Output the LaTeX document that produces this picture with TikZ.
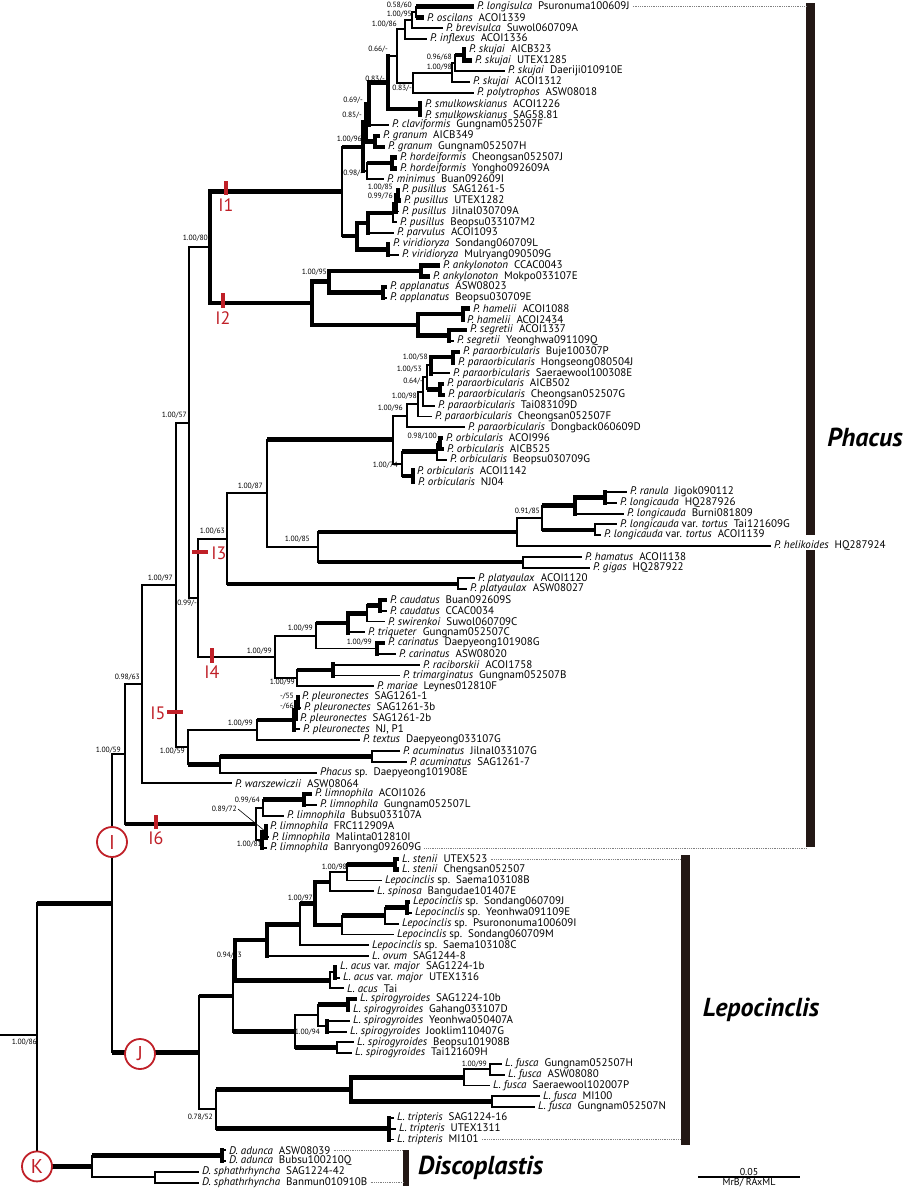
\documentclass[tikz,border=0pt]{standalone}
\usepackage{fontspec}
\setmainfont{PT Sans}
\usetikzlibrary{calc}
\definecolor{dred}{RGB}{192,32,40}
\definecolor{barc}{RGB}{35,24,21}
\newcommand\gp{\hspace{6pt}}
\newcommand\tip[4]{\coordinate (#1) at (#3,{6.5+(#2-1)*10.79});\node[tiplab] (#1l) at (#1) {#4};}
\newcommand\inode[4]{\path let \p1=(#3), \p2=(#4) in coordinate (#1) at (#2pt,{0.5*(\y1+\y2)});}
\newcommand\cl[7]{\inode{#1}{#2}{#3}{#5}\draw[br,#4] (#1 |- #3) -- (#3);\draw[br,#6] (#1 |- #5) -- (#5);\draw[br,line cap=rect,#7] (#1 |- #3) -- (#1 |- #5);}
\newcommand\sv[4]{\node[sup] (#1) at (#2,#3) {#4};}
\begin{document}
\begin{tikzpicture}[x=1pt,y=-1pt,
  br/.style={line width=1.9pt,black},
  k/.style={line width=4.5pt},
  tiplab/.style={anchor=west,inner sep=0pt,xshift=3pt,font=\fontsize{11}{11}\selectfont},
  sup/.style={anchor=east,inner sep=0pt,font=\fontsize{7.6}{7.6}\selectfont},
  tick/.style={dred,line width=3.5pt},
  tlab/.style={text=dred,inner sep=0pt,font=\fontsize{18}{18}\selectfont},
  circ/.style={circle,draw=dred,line width=1.8pt,fill=white,text=dred,minimum size=30pt,inner sep=0pt,font=\fontsize{20}{20}\selectfont},
  clab/.style={inner sep=0pt,font=\fontsize{26}{26}\selectfont\bfseries\itshape},
  dotl/.style={gray,line width=0.8pt,densely dotted},
  scl/.style={inner sep=1pt,font=\fontsize{10}{10}\selectfont}]
\fill[white] (0,0) rectangle (903,1191);
\useasboundingbox (0,0) rectangle (903,1191);
% tips
\tip{t1}{1}{474}{\textit{P. longisulca}\gp Psuronuma100609J}
\tip{t2}{2}{424}{\textit{P. oscilans}\gp ACOI1339}
\tip{t3}{3}{443}{\textit{P. brevisulca}\gp Suwol060709A}
\tip{t4}{4}{427}{\textit{P. inflexus}\gp ACOI1336}
\tip{t5}{5}{466}{\textit{P. skujai}\gp AICB323}
\tip{t6}{6}{472}{\textit{P. skujai}\gp UTEX1285}
\tip{t7}{7}{505}{\textit{P. skujai}\gp Daeriji010910E}
\tip{t8}{8}{470}{\textit{P. skujai}\gp ACOI1312}
\tip{t9}{9}{474}{\textit{P. polytrophos}\gp ASW08018}
\tip{t10}{10}{422}{\textit{P. smulkowskianus}\gp ACOI1226}
\tip{t11}{11}{422}{\textit{P. smulkowskianus}\gp SAG58.81}
\tip{t12}{12}{389}{\textit{P. claviformis}\gp Gungnam052507F}
\tip{t13}{13}{380}{\textit{P. granum}\gp AICB349}
\tip{t14}{14}{385}{\textit{P. granum}\gp Gungnam052507H}
\tip{t15}{15}{397}{\textit{P. hordeiformis}\gp Cheongsan052507J}
\tip{t16}{16}{397}{\textit{P. hordeiformis}\gp Yongho092609A}
\tip{t17}{17}{384}{\textit{P. minimus}\gp Buan092609I}
\tip{t18}{18}{399}{\textit{P. pusillus}\gp SAG1261-5}
\tip{t19}{19}{401}{\textit{P. pusillus}\gp UTEX1282}
\tip{t20}{20}{399}{\textit{P. pusillus}\gp Jilnal030709A}
\tip{t21}{21}{397}{\textit{P. pusillus}\gp Beopsu033107M2}
\tip{t22}{22}{394}{\textit{P. parvulus}\gp ACOI1093}
\tip{t23}{23}{390}{\textit{P. viridioryza}\gp Sondang060709L}
\tip{t24}{24}{399}{\textit{P. viridioryza}\gp Mulryang090509G}
\tip{t25}{25}{440}{\textit{P. ankylonoton}\gp CCAC0043}
\tip{t26}{26}{430}{\textit{P. ankylonoton}\gp Mokpo033107E}
\tip{t27}{27}{387}{\textit{P. applanatus}\gp ASW08023}
\tip{t28}{28}{387}{\textit{P. applanatus}\gp Beopsu030709E}
\tip{t29}{29}{470}{\textit{P. hamelii}\gp ACOI1088}
\tip{t30}{30}{464}{\textit{P. hamelii}\gp ACOI2434}
\tip{t31}{31}{467}{\textit{P. segretii}\gp ACOI1337}
\tip{t32}{32}{454}{\textit{P. segretii}\gp Yeonghwa091109Q}
\tip{t33}{33}{460}{\textit{P. paraorbicularis}\gp Buje100307P}
\tip{t34}{34}{455}{\textit{P. paraorbicularis}\gp Hongseong080504J}
\tip{t35}{35}{450}{\textit{P. paraorbicularis}\gp Saeraewool100308E}
\tip{t36}{36}{444}{\textit{P. paraorbicularis}\gp AICB502}
\tip{t37}{37}{445}{\textit{P. paraorbicularis}\gp Cheongsan052507G}
\tip{t38}{38}{435}{\textit{P. paraorbicularis}\gp Tai083109D}
\tip{t39}{39}{432}{\textit{P. paraorbicularis}\gp Cheongsan052507F}
\tip{t40}{40}{465}{\textit{P. paraorbicularis}\gp Dongback060609D}
\tip{t41}{41}{443}{\textit{P. orbicularis}\gp ACOI996}
\tip{t42}{42}{444}{\textit{P. orbicularis}\gp AICB525}
\tip{t43}{43}{447}{\textit{P. orbicularis}\gp Beopsu030709G}
\tip{t44}{44}{414}{\textit{P. orbicularis}\gp ACOI1142}
\tip{t45}{45}{415}{\textit{P. orbicularis}\gp NJ04}
\tip{t46}{46}{627}{\textit{P. ranula}\gp Jigok090112}
\tip{t47}{47}{617}{\textit{P. longicauda}\gp HQ287926}
\tip{t48}{48}{624}{\textit{P. longicauda}\gp Burni081809}
\tip{t49}{49}{617}{\textit{P. longicauda} var. \textit{tortus}\gp Tai121609G}
\tip{t50}{50}{601}{\textit{P. longicauda} var. \textit{tortus}\gp ACOI1139}
\tip{t51}{51}{771}{\textit{P. helikoides}\gp HQ287924}
\tip{t52}{52}{582}{\textit{P. hamatus}\gp ACOI1138}
\tip{t53}{53}{590}{\textit{P. gigas}\gp HQ287922}
\tip{t54}{54}{475}{\textit{P. platyaulax}\gp ACOI1120}
\tip{t55}{55}{467}{\textit{P. platyaulax}\gp ASW08027}
\tip{t56}{56}{387}{\textit{P. caudatus}\gp Buan092609S}
\tip{t57}{57}{387}{\textit{P. caudatus}\gp CCAC0034}
\tip{t58}{58}{385}{\textit{P. swirenkoi}\gp Suwol060709C}
\tip{t59}{59}{365}{\textit{P. triqueter}\gp Gungnam052507C}
\tip{t60}{60}{385}{\textit{P. carinatus}\gp Daepyeong101908G}
\tip{t61}{61}{396}{\textit{P. carinatus}\gp ASW08020}
\tip{t62}{62}{420}{\textit{P. raciborskii}\gp ACOI1758}
\tip{t63}{63}{400}{\textit{P. trimarginatus}\gp Gungnam052507B}
\tip{t64}{64}{374}{\textit{P. mariae}\gp Leynes012810F}
\tip{t65}{65}{299}{\textit{P. pleuronectes}\gp SAG1261-1}
\tip{t66}{66}{301}{\textit{P. pleuronectes}\gp SAG1261-3b}
\tip{t67}{67}{297}{\textit{P. pleuronectes}\gp SAG1261-2b}
\tip{t68}{68}{300}{\textit{P. pleuronectes}\gp NJ, P1}
\tip{t69}{69}{360}{\textit{P. textus}\gp Daepyeong033107G}
\tip{t70}{70}{400}{\textit{P. acuminatus}\gp Jilnal033107G}
\tip{t71}{71}{407}{\textit{P. acuminatus}\gp SAG1261-7}
\tip{t72}{72}{317}{\textit{Phacus} sp.\gp Daepyeong101908E}
\tip{t73}{73}{232}{\textit{P. warszewiczii}\gp ASW08064}
\tip{t74}{74}{312}{\textit{P. limnophila}\gp ACOI1026}
\tip{t75}{75}{317}{\textit{P. limnophila}\gp Gungnam052507L}
\tip{t76}{76}{284}{\textit{P. limnophila}\gp Bubsu033107A}
\tip{t77}{77}{267}{\textit{P. limnophila}\gp FRC112909A}
\tip{t78}{78}{269}{\textit{P. limnophila}\gp Malinta012810I}
\tip{t79}{79}{267}{\textit{P. limnophila}\gp Banryong092609G}
\tip{t80}{80}{399}{\textit{L. stenii}\gp UTEX523}
\tip{t81}{81}{399}{\textit{L. stenii}\gp Chengsan052507}
\tip{t82}{82}{382}{\textit{Lepocinclis} sp.\gp Saema103108B}
\tip{t83}{83}{374}{\textit{L. spinosa}\gp Bangudae101407E}
\tip{t84}{84}{410}{\textit{Lepocinclis} sp.\gp Sondang060709J}
\tip{t85}{85}{412}{\textit{Lepocinclis} sp.\gp Yeonhwa091109E}
\tip{t86}{86}{399}{\textit{Lepocinclis} sp.\gp Psurononuma100609I}
\tip{t87}{87}{394}{\textit{Lepocinclis} sp.\gp Sondang060709M}
\tip{t88}{88}{369}{\textit{Lepocinclis} sp.\gp Saema103108C}
\tip{t89}{89}{369}{\textit{L. ovum}\gp SAG1244-8}
\tip{t90}{90}{337}{\textit{L. acus} var. \textit{major}\gp SAG1224-1b}
\tip{t91}{91}{340}{\textit{L. acus} var. \textit{major}\gp UTEX1316}
\tip{t92}{92}{344}{\textit{L. acus}\gp Tai}
\tip{t93}{93}{357}{\textit{L. spirogyroides}\gp SAG1224-10b}
\tip{t94}{94}{350}{\textit{L. spirogyroides}\gp Gahang033107D}
\tip{t95}{95}{350}{\textit{L. spirogyroides}\gp Yeonhwa050407A}
\tip{t96}{96}{347}{\textit{L. spirogyroides}\gp Jooklim110407G}
\tip{t97}{97}{354}{\textit{L. spirogyroides}\gp Beopsu101908B}
\tip{t98}{98}{352}{\textit{L. spirogyroides}\gp Tai121609H}
\tip{t99}{99}{502}{\textit{L. fusca}\gp Gungnam052507H}
\tip{t100}{100}{505}{\textit{L. fusca}\gp ASW08080}
\tip{t101}{101}{490}{\textit{L. fusca}\gp Saeraewool102007P}
\tip{t102}{102}{540}{\textit{L. fusca}\gp MI100}
\tip{t103}{103}{535}{\textit{L. fusca}\gp Gungnam052507N}
\tip{t104}{104}{394}{\textit{L. tripteris}\gp SAG1224-16}
\tip{t105}{105}{396}{\textit{L. tripteris}\gp UTEX1311}
\tip{t106}{106}{394}{\textit{L. tripteris}\gp MI101}
\tip{t107}{107}{226}{\textit{D. adunca}\gp ASW08039}
\tip{t108}{108}{226}{\textit{D. adunca}\gp Bubsu100210Q}
\tip{t109}{109}{199}{\textit{D. sphathrhyncha}\gp SAG1224-42}
\tip{t110}{110}{199}{\textit{D. sphathrhyncha}\gp Banmun010910B}
% Phacus upper clades
\cl{N60}{416}{t1}{k}{t2}{k}{}
\cl{N95}{412}{N60}{}{t3}{}{}
\cl{N86}{405}{N95}{}{t4}{}{}
\cl{SK}{464}{t5}{k}{t6}{k}{k}
\cl{S2}{455}{SK}{k}{t7}{}{}
\cl{S3}{452}{S2}{}{t8}{}{}
\cl{SP}{413}{S3}{}{t9}{}{}
\cl{N66}{397}{N86}{}{SP}{}{}
\cl{SM}{420}{t10}{}{t11}{}{k}
\cl{N83}{388}{N66}{}{SM}{k}{k}
\cl{N69}{369}{N83}{k}{t12}{}{k}
\cl{GR}{375}{t13}{k}{t14}{k}{k}
\cl{N85p}{366}{N69}{k}{GR}{k}{k}
\cl{HO}{392}{t15}{k}{t16}{k}{k}
\cl{N98}{367}{HO}{k}{t17}{}{}
\cl{N96}{363}{N85p}{k}{N98}{}{k}
\cl{PU3}{398}{t18}{k}{t19}{k}{k}
\cl{PU2}{396}{PU3}{k}{t20}{}{k}
\cl{PU}{393}{PU2}{}{t21}{}{}
\cl{PP}{368}{PU}{k}{t22}{}{k}
\cl{VI}{388}{t23}{}{t24}{}{k}
\cl{PG}{357}{PP}{k}{VI}{k}{k}
\cl{I1n}{342}{N96}{k}{PG}{k}{}
\cl{AN}{421}{t25}{k}{t26}{k}{k}
\cl{AP}{383}{t27}{k}{t28}{}{k}
\cl{AA}{329}{AN}{k}{AP}{k}{k}
\cl{HA}{463}{t29}{k}{t30}{}{k}
\cl{SE}{449}{t31}{k}{t32}{}{k}
\cl{HS}{418}{HA}{k}{SE}{k}{k}
\cl{I2n}{312}{AA}{k}{HS}{k}{k}
\cl{N80}{210}{I1n}{k}{I2n}{k}{k}
% paraorbicularis / orbicularis / longicauda
\cl{BH}{453}{t33}{k}{t34}{k}{k}
\cl{PB1}{431}{BH}{k}{t35}{}{k}
\cl{AC5}{440}{t36}{k}{t37}{k}{k}
\cl{PB2}{427}{PB1}{}{AC5}{k}{}
\cl{PB3}{423}{PB2}{}{t38}{}{}
\cl{PB4}{418}{PB3}{}{t39}{}{}
\cl{PA}{407}{PB4}{}{t40}{}{}
\cl{OB1}{440}{t41}{k}{t42}{k}{k}
\cl{OB2}{437}{OB1}{k}{t43}{}{}
\cl{OB3}{413}{t44}{k}{t45}{k}{k}
\cl{OB}{402}{OB2}{k}{OB3}{k}{}
\cl{PO}{393}{PA}{}{OB}{}{}
\cl{RP}{605}{t46}{}{t47}{}{k}
\cl{RL}{575}{RP}{k}{t48}{}{k}
\cl{TO}{595}{t49}{}{t50}{}{}
\cl{LK}{542}{RL}{k}{TO}{k}{}
\cl{LH}{517}{LK}{}{t51}{}{}
\cl{HG}{523}{t52}{}{t53}{}{}
\cl{N85}{318}{LH}{k}{HG}{k}{}
\cl{N87}{267}{PO}{k}{N85}{}{}
\cl{PY}{458}{t54}{}{t55}{}{}
\cl{N63}{227}{N87}{}{PY}{k}{}
\cl{CP}{380}{t56}{k}{t57}{}{k}
\cl{CG2}{367}{CP}{k}{t58}{}{}
\cl{CG}{348}{CG2}{k}{t59}{}{k}
\cl{CA}{377}{t60}{k}{t61}{}{k}
\cl{CC}{316}{CG}{k}{CA}{}{}
\cl{RTa}{333}{t62}{}{t63}{}{k}
\cl{RT}{297}{RTa}{k}{t64}{}{}
\cl{I4n}{275}{CC}{}{RT}{}{}
\cl{N99}{198}{N63}{}{I4n}{}{}
\cl{N57}{189}{N80}{}{N99}{}{}
\cl{PL3}{298}{t65}{}{t66}{}{k}
\cl{PL2}{296}{PL3}{}{t67}{}{k}
\cl{PL}{294}{PL2}{}{t68}{}{k}
\cl{PT}{257}{PL}{k}{t69}{}{}
\cl{AU}{372}{t70}{}{t71}{}{}
\cl{AC}{220}{AU}{k}{t72}{}{}
\cl{N59b}{188}{PT}{}{AC}{k}{}
\cl{N97}{176}{N57}{}{N59b}{}{}
\cl{N9863}{142}{N97}{}{t73}{}{}
\cl{LP}{304}{t74}{k}{t75}{}{k}
\cl{LM1}{263}{LP}{k}{t76}{}{}
\cl{LM3}{266}{t77}{}{t78}{}{k}
\cl{LM2}{262}{LM3}{}{t79}{}{k}
\cl{LM}{256}{LM1}{}{LM2}{}{}
\cl{N59}{125}{N9863}{}{LM}{k}{}
% Lepocinclis
\cl{ST}{395}{t80}{k}{t81}{k}{k}
\cl{SG1}{347}{ST}{k}{t82}{}{}
\cl{SG}{330}{SG1}{}{t83}{}{}
\cl{SJ}{407}{t84}{k}{t85}{}{k}
\cl{SD1}{385}{SJ}{k}{t86}{}{}
\cl{SD}{342}{SD1}{k}{t87}{}{}
\cl{BC1}{315}{SG}{k}{SD}{k}{k}
\cl{BC}{300}{BC1}{k}{t88}{}{}
\cl{OV}{267}{BC}{k}{t89}{}{k}
\cl{AS}{335}{t90}{}{t91}{}{k}
\cl{ACU}{330}{AS}{}{t92}{}{}
\cl{N94}{235}{OV}{k}{ACU}{k}{k}
\cl{SGa}{348}{t93}{k}{t94}{}{k}
\cl{SYJ}{327}{t95}{}{t96}{}{k}
\cl{SP1}{318}{SGa}{k}{SYJ}{}{}
\cl{SBT}{337}{t97}{}{t98}{}{}
\cl{SPI}{295}{SP1}{}{SBT}{k}{}
\cl{JA}{233}{N94}{}{SPI}{k}{}
\cl{FP}{490}{t99}{}{t100}{}{}
\cl{FC1}{464}{FP}{}{t101}{}{}
\cl{FM}{492}{t102}{}{t103}{}{}
\cl{FC}{351}{FC1}{k}{FM}{k}{k}
\inode{TR}{389}{t104}{t106}
\draw[br] (TR |- t104) -- (t104);
\draw[br] (TR |- t105) -- (t105);
\draw[br] (TR |- t106) -- (t106);
\draw[br,k,line cap=rect] (TR |- t104) -- (TR |- t106);
\cl{JB}{216}{FC}{k}{TR}{k}{}
\cl{Jn}{199}{JA}{k}{JB}{}{}
\cl{IJ}{112}{N59}{}{Jn}{k}{}
% Discoplastis and root
\cl{DA}{222}{t107}{}{t108}{}{k}
\cl{DS}{155}{t109}{}{t110}{}{}
\cl{Kn}{92}{DA}{k}{DS}{}{}
\cl{RT0}{37}{IJ}{k}{Kn}{k}{}
\path let \p1=(RT0) in coordinate (r0) at (0pt,\y1);
\draw[br] (r0) -- (RT0);
% support values
\sv{sA}{412}{5}{0.58/60}
\sv{sB}{412}{14}{1.00/95}
\sv{sC}{397}{24}{1.00/86}
\sv{sD}{388}{49}{0.66/-}
\sv{sE}{452}{57}{0.96/68}
\sv{sF}{452}{67}{1.00/98}
\sv{sG}{385}{79}{0.83/-}
\sv{sH}{412}{88}{0.83/-}
\sv{sI}{363}{100}{0.69/-}
\sv{sJ}{362}{115}{0.85/-}
\sv{sK}{362}{139}{1.00/96}
\sv{sL}{363}{173}{0.98/-}
\sv{sM}{393}{187}{1.00/85}
\sv{sN}{393}{196}{0.99/76}
\sv{sO}{208}{238}{1.00/80}
\sv{sP}{327}{272}{1.00/95}
\sv{sQ}{428}{357}{1.00/58}
\sv{sR}{422}{369}{1.00/53}
\sv{sS}{423}{381}{0.64/-}
\sv{sT}{417}{396}{1.00/98}
\sv{sU}{403}{408}{1.00/96}
\sv{sV}{437}{436}{0.98/100}
\sv{sW}{398}{465}{1.00/74}
\sv{sX}{263}{486}{1.00/87}
\sv{sY}{540}{511}{0.91/85}
\sv{sZ}{310}{539}{1.00/85}
\sv{sa}{225}{531}{1.00/63}
\sv{sb}{187}{415}{1.00/57}
\sv{sc}{197}{603}{0.99/-}
\sv{sd}{173}{578}{1.00/97}
\sv{se}{313}{628}{1.00/99}
\sv{sf}{372}{642}{1.00/99}
\sv{sg}{272}{651}{1.00/99}
\sv{sh}{295}{682}{1.00/99}
\sv{si}{140}{677}{0.98/63}
\sv{sj}{294}{696}{-/55}
\sv{sk}{294}{706}{-/66}
\sv{sl}{253}{723}{1.00/99}
\sv{sm}{121}{750}{1.00/59}
\sv{sn}{185}{751}{1.00/59}
\sv{so}{260}{800}{0.99/64}
\sv{sp}{237}{809}{0.89/72}
\sv{sq}{262}{844}{1.00/81}
\sv{sr}{347}{867}{1.00/98}
\sv{ss}{313}{898}{1.00/97}
\sv{st}{242}{955}{0.94/73}
\sv{su}{320}{1032}{1.00/94}
\sv{sv}{487}{1064}{1.00/99}
\sv{sw}{213}{1117}{0.78/52}
\sv{sx}{37}{1042}{1.00/86}
\draw[line width=0.6pt] ([xshift=1pt]sp.east) -- (LM3);
% red markers
\draw[tick] (226,181) -- (226,195); \node[tlab] (lI1) at (226,205) {I1};
\draw[tick] (223,293) -- (223,308); \node[tlab] (lI2) at (223,318) {I2};
\draw[tick] (192,552) -- (208,552); \node[tlab] (lI3) at (219,553) {I3};
\draw[tick] (212,648) -- (212,663); \node[tlab] (lI4) at (212,672) {I4};
\draw[tick] (167,712) -- (183,712); \node[tlab] (lI5) at (158,713) {I5};
\draw[tick] (156,815) -- (156,829); \node[tlab] (lI6) at (156,838) {I6};
\node[circ] (cI) at (112,842) {I};
\node[circ] (cJ) at (140,1054) {J};
\node[circ] (cK) at (RT0 |- Kn) {K};
% clade bars
\fill[barc] (806,3) rectangle (815,535);
\fill[barc] (806,550) rectangle (815,847);
\fill[barc] (681,855) rectangle (690,1145);
\fill[barc] (403,1150) rectangle (409,1186);
\coordinate (phL) at (806,0);
\coordinate (lpL) at (681,0);
\coordinate (dsL) at (403,0);
\draw[dotl] ([xshift=3pt]t1l.east) -- (t1l.east -| phL);
\draw[dotl] ([xshift=3pt]t79l.east) -- (t79l.east -| phL);
\draw[dotl] ([xshift=3pt]t80l.east) -- (t80l.east -| lpL);
\draw[dotl] ([xshift=3pt]t106l.east) -- (t106l.east -| lpL);
\draw[dotl] ([xshift=3pt]t107l.east) -- (t107l.east -| dsL);
\draw[dotl] ([xshift=3pt]t110l.east) -- (t110l.east -| dsL);
\node[clab] (nPh) at (865,437) {Phacus};
\node[clab] (nLe) at (761,1010) {Lepocinclis};
\node[clab,anchor=west] (nDi) at (418,1168) {Discoplastis};
% scale bar
\coordinate (sb1) at (698,1177);
\coordinate (sb2) at (800,1177);
\draw[line width=1.6pt] (sb1) -- (sb2);
\node[scl,anchor=south] (sbt) at ($(sb1)!0.5!(sb2)$) {0.05};
\node[scl,anchor=north] (sbb) at ($(sb1)!0.5!(sb2)$) {MrB/ RAxML};
\end{tikzpicture}
\end{document}
